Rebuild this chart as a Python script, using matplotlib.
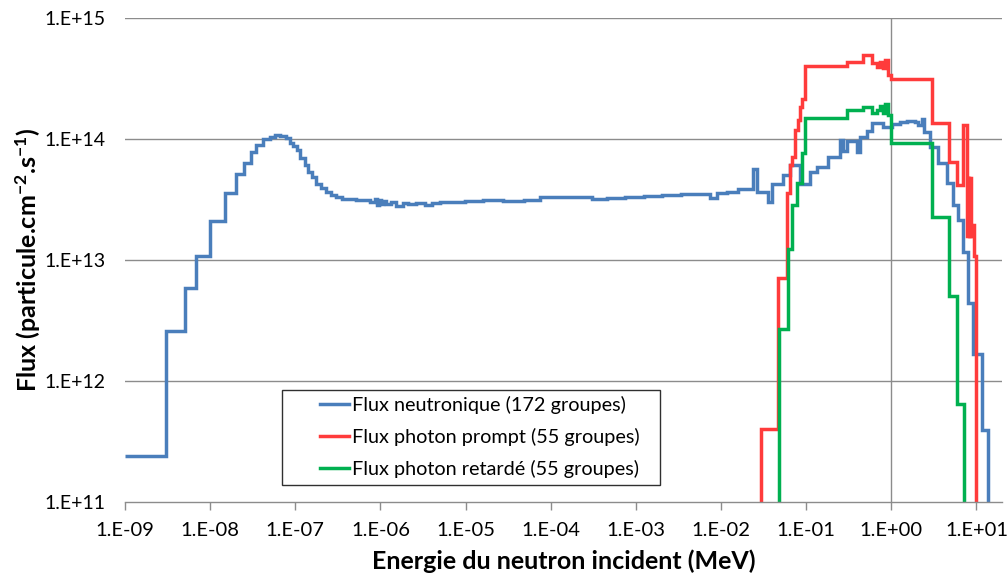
import matplotlib.pyplot as plt
import matplotlib.patches as patches
from matplotlib.ticker import NullLocator

plt.rcParams['font.family'] = ['Lato', 'DejaVu Sans']
plt.rcParams['mathtext.fontset'] = 'custom'
plt.rcParams['mathtext.rm'] = 'Lato'
plt.rcParams['mathtext.bf'] = 'Lato:bold'
plt.rcParams['mathtext.default'] = 'bf'

# energies in MeV (group edges), flux in particule.cm-2.s-1
blue_edges = [1e-9, 3e-9, 5e-9, 6.9e-9, 1e-8, 1.5e-8, 2e-8, 2.5e-8, 3e-8, 3.5e-8,
              4.2e-8, 5e-8, 5.8e-8, 6.7e-8, 7.7e-8, 8.7e-8, 9.5e-8, 1.04e-7, 1.14e-7, 1.3e-7,
              1.43e-7, 1.56e-7, 1.76e-7, 2.01e-7, 2.3e-7, 2.64e-7, 3.01e-7, 3.55e-7, 5.18e-7, 7.57e-7,
              8.67e-7, 9.14e-7, 9.66e-7, 1.02e-6, 1.08e-6, 1.17e-6, 1.34e-6, 1.53e-6, 1.85e-6, 2.11e-6,
              2.63e-6, 3.35e-6, 4.05e-6, 5.03e-6, 9.9e-6, 1.61e-5, 2.77e-5, 4.89e-5, 7.53e-5, 3.07e-4,
              4.61e-4, 7.5e-4, 1.26e-3, 2.04e-3, 3.41e-3, 5.56e-3, 7.48e-3, 9.06e-3, 1.19e-2, 1.6e-2,
              2.4e-2, 2.67e-2, 3.6e-2, 4.01e-2, 5.4e-2, 6.52e-2, 8.54e-2, 0.112, 0.135, 0.182,
              0.252, 0.274, 0.305, 0.4, 0.434, 0.524, 0.6, 0.807, 1.03, 1.28,
              1.55, 1.92, 2.08, 2.32, 2.41, 2.88, 3.57, 4.56, 5.37, 6.14,
              7.03, 8.05, 9.23, 11.8, 13.8, 20]
blue_flux = [2.43e11, 2.6e12, 5.9e12, 1.09e13, 2.1e13, 3.6e13, 5.2e13, 6.4e13, 7.8e13, 9.0e13,
             1.0e14, 1.05e14, 1.09e14, 1.07e14, 1.02e14, 9.4e13, 8.8e13, 8.2e13, 7.0e13, 6.1e13,
             5.4e13, 4.9e13, 4.3e13, 3.96e13, 3.67e13, 3.47e13, 3.34e13, 3.24e13, 3.15e13, 3.03e13,
             3.21e13, 2.86e13, 3.15e13, 2.92e13, 3.09e13, 2.92e13, 3.03e13, 2.81e13, 2.98e13, 2.92e13,
             3.0e13, 2.86e13, 2.98e13, 3.05e13, 3.12e13, 3.15e13, 3.09e13, 3.18e13, 3.32e13, 3.23e13,
             3.27e13, 3.36e13, 3.40e13, 3.47e13, 3.50e13, 3.53e13, 3.29e13, 3.62e13, 3.69e13, 3.86e13,
             5.65e13, 3.69e13, 3.05e13, 4.25e13, 5.07e13, 6.13e13, 4.27e13, 5.40e13, 5.94e13, 7.1e13,
             9.87e13, 8.0e13, 9.68e13, 7.81e13, 1.05e14, 1.18e14, 1.36e14, 1.26e14, 1.34e14, 1.39e14,
             1.43e14, 1.40e14, 1.31e14, 1.47e14, 1.16e14, 8.69e13, 6.33e13, 4.38e13, 2.86e13, 2.15e13,
             1.17e13, 4.41e12, 1.68e12, 3.96e11, 1e9]

red_edges = [0.01, 0.0298, 0.0468, 0.0601, 0.0652, 0.0689, 0.0746, 0.0809, 0.0854, 0.0901,
             0.0979, 0.305, 0.47, 0.594, 0.681, 0.745, 0.80, 0.853, 0.908, 0.995,
             3.01, 4.73, 5.93, 6.98, 7.78, 7.98, 8.20, 8.43, 8.66, 8.89,
             9.29, 10.0, 20]
red_flux = [1e9, 4.04e11, 7.18e12, 3.58e13, 6.13e13, 7.1e13, 1.19e14, 1.44e14, 1.86e14, 2.14e14,
            4.04e14, 4.38e14, 4.98e14, 4.25e14, 3.98e14, 4.38e14, 3.86e14, 4.52e14, 3.40e14, 3.13e14,
            1.36e14, 6.53e13, 4.23e13, 1.31e14, 1.59e13, 4.79e13, 1.59e13, 4.79e13, 1.59e13, 1.96e13,
            1.08e13, 1e9]

green_edges = [0.01, 0.0475, 0.0607, 0.0689, 0.0789, 0.0901, 0.0979, 0.305, 0.47, 0.594,
               0.681, 0.745, 0.80, 0.853, 0.908, 0.995, 3.01, 4.73, 5.93, 7.1, 20]
green_flux = [1e9, 2.7e12, 1.23e13, 2.86e13, 4.33e13, 7.7e13, 1.51e14, 1.73e14, 1.86e14, 1.64e14,
              1.75e14, 1.88e14, 1.64e14, 1.96e14, 1.59e14, 9.27e13, 2.27e13, 5.07e12, 6.49e11, 1e9]

labels = ["Flux neutronique (172 groupes)", "Flux photon prompt (55 groupes)",
          "Flux photon retardé (55 groupes)"]
xticks = [1e-9, 1e-8, 1e-7, 1e-6, 1e-5, 1e-4, 1e-3, 1e-2, 1e-1, 1e0, 1e1]
xticklabels = ["1.E-09", "1.E-08", "1.E-07", "1.E-06", "1.E-05", "1.E-04", "1.E-03",
               "1.E-02", "1.E-01", "1.E+00", "1.E+01"]
yticks = [1e11, 1e12, 1e13, 1e14, 1e15]
yticklabels = ["1.E+11", "1.E+12", "1.E+13", "1.E+14", "1.E+15"]

W, H = 1008, 581
fig = plt.figure(figsize=(W / 100, H / 100), dpi=100)
ax = fig.add_axes([125 / W, 1 - 502.3 / H, (1002 - 125) / W, (502.3 - 18.3) / H])
ax.set_xscale('log')
ax.set_yscale('log')
ax.set_xlim(1e-9, 20)
ax.set_ylim(1e11, 1e15)

grid_col = '#8c8c8c'
for y in yticks[1:]:
    ax.axhline(y, color=grid_col, lw=1, zorder=0)
ax.axvline(1, color=grid_col, lw=1, zorder=0)

lw = 2.5
ax.stairs(blue_flux, blue_edges, baseline=None, color='#4a7ebb', lw=lw, label=labels[0])
ax.stairs(red_flux, red_edges, baseline=None, color='#ff3b3b', lw=lw, label=labels[1])
ax.stairs(green_flux, green_edges, baseline=None, color='#00b050', lw=lw, label=labels[2])

for s in ['left', 'right', 'top']:
    ax.spines[s].set_visible(False)
ax.spines['bottom'].set_color(grid_col)
ax.spines['bottom'].set_linewidth(1)

ax.set_xticks(xticks)
ax.set_xticklabels(xticklabels)
ax.set_yticks(yticks)
ax.set_yticklabels(yticklabels)
ax.xaxis.set_minor_locator(NullLocator())
ax.yaxis.set_minor_locator(NullLocator())
ax.tick_params(axis='x', direction='out', length=6, width=1, color=grid_col, labelsize=14.5, pad=8)
ax.tick_params(axis='y', length=0, pad=14, labelsize=14)

ax.set_xlabel("Energie du neutron incident (MeV)", fontsize=18, fontweight='bold', labelpad=8)
ax.set_ylabel(r"Flux (particule.cm$^{-2}$.s$^{-1}$)", fontsize=18, fontweight='bold')
ax.yaxis.set_label_coords(-0.093, 0.5)

leg = ax.legend(loc='upper left', bbox_to_anchor=(320 / W, 1 - 396 / H), bbox_transform=fig.transFigure,
                frameon=False, fontsize=14.3, borderpad=0, borderaxespad=0, handlelength=1.45,
                handletextpad=0.15, labelspacing=0.7)
fig.patches.append(patches.Rectangle((282 / W, 1 - 485 / H), (660 - 282) / W, (485 - 390) / H,
                                     transform=fig.transFigure, fill=False, edgecolor='#303030', lw=1))

fig.savefig("out.png", dpi=100)
